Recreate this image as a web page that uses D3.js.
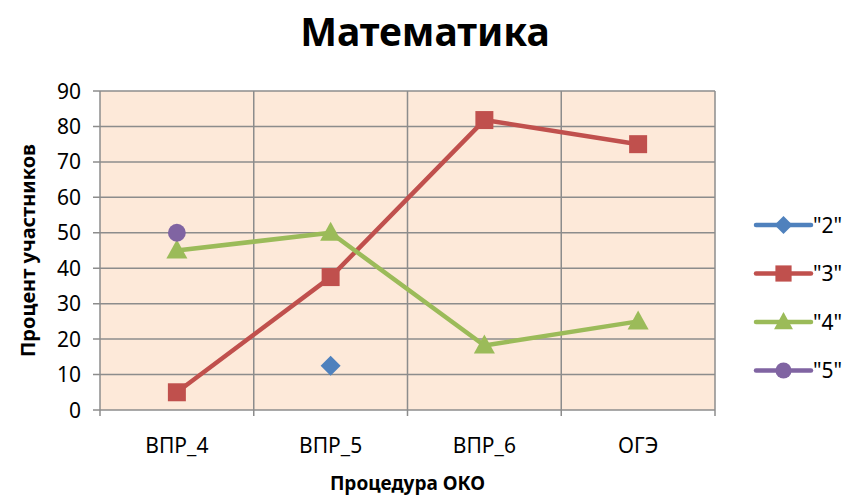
<!DOCTYPE html>
<html>
<head>
<meta charset="utf-8">
<script src="https://cdn.jsdelivr.net/npm/d3@7"></script>
<style>
  body { margin: 0; background: #fff; }
  svg text { font-family: "Noto Sans", "Open Sans", sans-serif; fill: #000; }
</style>
</head>
<body>
<svg id="chart" width="849" height="499"></svg>
<script>
// data
var categories = ["ВПР_4", "ВПР_5", "ВПР_6", "ОГЭ"];
var seriesNames = ['"2"', '"3"', '"4"', '"5"'];
var grade2 = [null, 12.5, null, null];
var grade3 = [5, 37.5, 81.8, 75];
var grade4 = [45, 50, 18.2, 25];
var grade5 = [50, null, null, null];
var yTicks = [0, 10, 20, 30, 40, 50, 60, 70, 80, 90];

var colors = ["#4F81BD", "#C0504D", "#9BBB59", "#8064A2"];
var allSeries = [grade2, grade3, grade4, grade5];

// marker shapes in the spreadsheet style
function marker(k, s) {
  s = s || 1;
  if (k === 0) { var r = 10 * s; return "M0," + (-r) + "L" + r + ",0L0," + r + "L" + (-r) + ",0Z"; }
  if (k === 1) { var h = 9 * s; return "M" + (-h) + "," + (-h) + "H" + h + "V" + h + "H" + (-h) + "Z"; }
  if (k === 2) { var w = 10.5 * s, t = 11 * s, b = 8 * s; return "M0," + (-t) + "L" + w + "," + b + "L" + (-w) + "," + b + "Z"; }
  return d3.symbol().type(d3.symbolCircle).size(250 * s * s)();
}

var svg = d3.select("#chart"),
    margin = {top: 91, right: 134, bottom: 89, left: 100},
    width = 849 - margin.left - margin.right,
    height = 499 - margin.top - margin.bottom,
    g = svg.append("g").attr("transform", "translate(" + margin.left + "," + margin.top + ")");

var x = d3.scaleBand().domain(categories).range([0, width]);
var y = d3.scaleLinear().domain([0, 90]).range([height, 0]);

g.append("rect")
  .attr("width", width).attr("height", height)
  .attr("fill", "#FDE9D9");

// horizontal grid
g.append("g").selectAll("line").data(yTicks).enter().append("line")
  .attr("x1", -7).attr("x2", width)
  .attr("y1", function(d) { return y(d); }).attr("y2", function(d) { return y(d); })
  .attr("stroke", "#8c8c8c").attr("stroke-width", 1.5);

// vertical grid at category boundaries
var bounds = categories.map(function(c) { return x(c); }).concat([width]);
g.append("g").selectAll("line").data(bounds).enter().append("line")
  .attr("x1", function(d) { return d; }).attr("x2", function(d) { return d; })
  .attr("y1", 0).attr("y2", height + 6)
  .attr("stroke", "#8c8c8c").attr("stroke-width", 1.5);

// y tick labels
g.append("g").selectAll("text").data(yTicks).enter().append("text")
  .attr("x", -19).attr("y", function(d) { return y(d); })
  .attr("dy", "0.36em").attr("text-anchor", "end")
  .attr("font-size", 21)
  .text(function(d) { return d; });

// x tick labels
g.append("g").selectAll("text").data(categories).enter().append("text")
  .attr("x", function(d) { return x(d) + x.bandwidth() / 2; })
  .attr("y", height + 43)
  .attr("text-anchor", "middle")
  .attr("font-size", 21)
  .text(function(d) { return d; });

var line = d3.line()
  .defined(function(d) { return d != null; })
  .x(function(d, i) { return x(categories[i]) + x.bandwidth() / 2; })
  .y(function(d) { return y(d); });

allSeries.forEach(function(s, k) {
  g.append("path").datum(s)
    .attr("d", line)
    .attr("fill", "none")
    .attr("stroke", colors[k])
    .attr("stroke-width", 4.5)
    .attr("stroke-linejoin", "round");
});

allSeries.forEach(function(s, k) {
  g.append("g").selectAll("path")
    .data(s.map(function(v, i) { return {v: v, i: i}; }).filter(function(d) { return d.v != null; }))
    .enter().append("path")
    .attr("d", marker(k))
    .attr("transform", function(d) {
      return "translate(" + (x(categories[d.i]) + x.bandwidth() / 2) + "," + y(d.v) + ")";
    })
    .attr("fill", colors[k]);
});

// title
svg.append("text")
  .attr("x", 425).attr("y", 46)
  .attr("text-anchor", "middle")
  .attr("font-size", 39).attr("font-weight", "bold")
  .text("Математика");

// axis titles
svg.append("text")
  .attr("transform", "translate(35," + (margin.top + height / 2) + ") rotate(-90)")
  .attr("text-anchor", "middle")
  .attr("font-size", 20).attr("font-weight", "bold")
  .text("Процент участников");

svg.append("text")
  .attr("x", margin.left + width / 2).attr("y", 490)
  .attr("text-anchor", "middle")
  .attr("font-size", 19).attr("font-weight", "bold")
  .text("Процедура ОКО");

// legend
var legend = svg.append("g").selectAll("g").data(seriesNames).enter().append("g")
  .attr("transform", function(d, i) { return "translate(756," + (225 + i * 48.5) + ")"; });

legend.append("line")
  .attr("x1", 0).attr("x2", 55)
  .attr("stroke", function(d, i) { return colors[i]; })
  .attr("stroke-width", 4.5).attr("stroke-linecap", "round");

legend.append("path")
  .attr("d", function(d, i) { return marker(i, 0.9); })
  .attr("transform", "translate(27.5,0)")
  .attr("fill", function(d, i) { return colors[i]; });

legend.append("text")
  .attr("x", 57).attr("dy", "0.36em")
  .attr("font-size", 21)
  .text(function(d) { return d; });
</script>
</body>
</html>
